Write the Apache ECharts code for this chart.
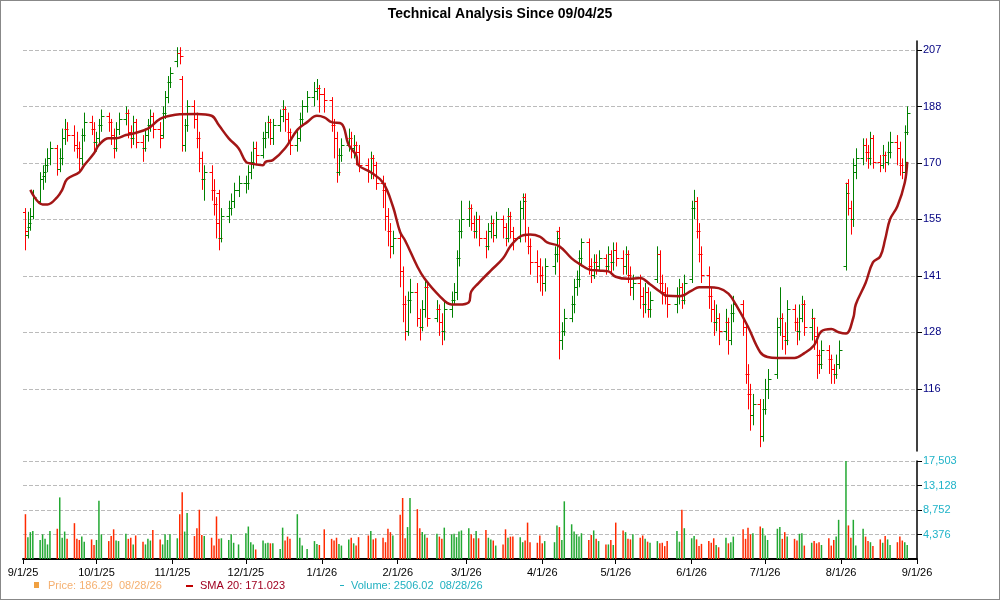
<!DOCTYPE html>
<html><head><meta charset="utf-8">
<script src="https://cdn.jsdelivr.net/npm/echarts@6/dist/echarts.min.js"></script>
<style>html,body{margin:0;padding:0;background:#fff}#c{width:1000px;height:600px;box-sizing:border-box;border:1px solid #888}</style>
</head><body><div id="c"></div>
<script>
const holidays=['2025-09-01','2025-11-27','2025-12-25','2026-01-01','2026-01-19','2026-02-16','2026-04-03','2026-05-25','2026-06-19','2026-07-03'];
const priceTicks=[116,128,141,155,170,188,207];
const volumeTicks=[4376,8752,13128,17503];
const monthLabels=['2025-09-01','2025-10-01','2025-11-01','2025-12-01','2026-01-01','2026-02-01','2026-03-01','2026-04-01','2026-05-01','2026-06-01','2026-07-01','2026-08-01','2026-09-01'];
const opens=[
157,151,153,156,160,166,167,170,172,175,169,172,178,181,179,176,175,172,179,183,181,
177,178,182,185,183,179,175,181,184,186,180,178,183,177,175,179,182,185,181,179,186,191,196,
203,206,197,176,182,188,184,178,172,166,168,163,159,162,150,156,158,160,163,
165,165,168,171,175,173,178,180,183,178,182,185,187,184,180,176,178,184,188,191,193,194,
192,190,182,178,168,173,176,178,175,176,174,170,168,172,170,165,163,156,152,148,
150,142,134,128,135,137,131,129,133,138,131,133,130,128,133,135,137,145,152,
155,158,154,152,155,150,148,152,154,151,155,153,150,156,152,150,158,161,151,148,144,143,
141,139,143,146,152,126,128,131,134,138,140,145,149,143,141,144,143,145,143,146,144,
147,145,143,146,141,138,139,136,134,137,133,140,146,139,137,136,134,136,138,135,
140,158,160,152,146,141,136,133,130,131,128,130,126,132,134,129,119,115,111,113,107,
112,116,119,129,131,127,126,133,130,128,131,134,129,131,127,123,121,124,122,120,119,121,
143,165,158,155,168,172,176,174,172,178,171,170,173,171,174,177,175,170,168,180];
const highs=[
158,157,158,163,168,170,172,175,177,176,175,181,184,183,182,180,177,181,186,185,183,
180,184,187,186,184,181,183,186,188,187,182,185,184,179,181,184,187,186,183,188,193,198,201,
208,208,198,184,190,190,186,180,174,170,170,166,161,163,158,160,162,165,167,
167,170,174,177,177,180,183,185,184,184,187,190,188,186,181,181,186,190,193,196,197,195,
194,191,184,180,175,178,181,180,179,177,176,172,174,173,171,167,165,158,154,152,
152,143,136,137,140,139,133,135,140,139,135,134,132,135,137,139,147,155,160,
160,159,156,157,156,152,154,156,155,157,156,154,158,157,153,160,162,162,153,150,147,145,
143,145,148,152,153,130,133,136,140,142,147,150,150,145,146,146,147,146,148,147,149,
149,147,148,147,143,141,141,138,139,138,137,148,147,141,139,138,138,140,139,141,
160,163,161,154,148,143,138,135,134,132,133,131,134,136,135,130,121,117,115,114,114,
118,120,131,138,132,130,135,134,131,134,136,135,133,131,129,124,126,125,123,121,123,126,
165,166,160,172,175,178,178,176,180,179,173,176,174,177,180,179,177,172,182,188];
const lows=[
147,150,152,155,159,163,165,168,170,167,168,170,176,177,174,172,168,170,177,179,174,
174,176,180,180,176,172,174,179,182,178,175,176,175,171,174,177,180,178,175,178,184,189,194,
201,202,174,174,180,181,175,168,163,160,160,156,150,147,149,154,156,158,161,
162,163,166,169,170,172,175,178,176,176,180,183,180,176,173,174,177,182,186,188,190,186,
186,180,172,165,167,171,174,172,172,170,168,165,166,166,163,158,152,148,145,146,
138,130,126,127,132,129,126,128,131,129,130,127,125,126,131,134,135,143,150,
153,152,150,150,148,145,147,150,149,150,150,148,149,150,147,149,155,149,146,141,139,137,
136,137,141,144,122,124,127,130,132,136,138,143,141,139,140,141,142,141,142,141,142,
143,141,141,139,136,135,133,131,132,131,131,139,137,134,134,131,132,134,133,134,
139,155,150,144,139,133,130,127,128,125,126,123,125,130,127,117,112,108,109,105,106,
111,114,118,127,124,123,125,128,125,126,130,127,126,124,118,119,120,119,117,117,118,120,
142,156,151,153,166,170,171,169,170,169,168,169,168,170,172,170,167,166,167,179];
const closes=[
152,154,156,161,166,168,170,172,175,169,172,178,181,179,176,175,172,179,183,181,177,
178,182,185,183,179,175,181,184,186,180,178,183,177,175,179,182,185,181,178,186,191,196,199,
206,205,176,182,188,184,178,172,166,168,163,159,154,150,156,158,160,163,165,
165,168,171,175,173,178,180,183,178,182,185,187,184,180,176,178,184,188,191,193,194,192,
190,182,178,168,173,176,178,175,176,174,170,168,172,170,165,163,156,152,148,150,
142,134,128,135,137,131,129,133,138,131,133,130,128,133,135,137,145,152,155,
158,154,152,155,150,148,152,154,151,155,153,150,156,152,150,158,160,151,148,144,143,141,
139,143,146,150,126,128,131,134,138,140,145,149,143,141,144,143,145,143,146,144,147,
145,143,146,141,138,139,136,134,137,133,135,146,139,137,136,134,136,138,135,139,
158,160,152,146,141,136,133,130,131,128,130,126,132,134,129,119,115,111,113,107,112,
116,118,129,131,127,126,133,130,128,131,134,129,131,127,123,121,124,122,120,119,121,124,
162,158,155,170,172,176,174,172,178,171,170,173,171,174,177,175,170,168,180,186];
const volumes=[
8000,3900,4800,5000,3400,4400,3600,2600,5000,5400,11000,3800,4900,3600,6400,3600,3400,4000,3100,3500,2500,
3400,10400,4400,3200,4100,5300,3300,3200,4500,3600,3800,2600,4200,3100,2600,3600,3300,5200,3500,2600,4400,3400,4400,
3700,8000,11900,4900,8200,4100,5500,8800,4300,4100,3800,2400,7600,3600,3700,3400,4400,2900,2600,
4600,5800,3000,2600,1700,3300,2800,2900,2800,2800,1800,5600,3300,4000,3600,8000,3800,2400,1800,3200,2700,2500,
5300,3600,3300,3800,2700,2400,3500,3800,2800,2400,3900,4200,5000,3500,3700,3800,3000,5400,4800,4200,
7900,10900,3700,5700,10900,8900,5500,4800,4400,3800,4500,4000,3600,5600,4400,4500,3900,4900,5100,
5500,4400,3700,5000,3700,5200,3800,3500,3300,2400,2600,5300,3800,4000,4000,3900,3000,3300,6500,3000,2900,4200,
2800,3200,3000,6000,5700,3400,10300,6200,4900,4400,4000,4600,3400,4300,5100,3600,3200,2600,2600,3400,2500,
6500,5100,4800,3600,3500,4400,3800,4200,3600,3100,2900,3200,2800,2900,2300,3200,5000,3100,8800,5500,
3700,4100,3500,2300,2700,3200,2900,3700,2500,2100,3800,2800,3000,4000,5300,3600,5600,4400,4600,5800,5500,
4200,3400,5400,5700,3600,4800,4000,3600,3300,4500,4600,2400,2900,3200,2800,3000,2500,3700,2400,3400,4000,7000,
17500,6000,3800,7000,2400,5400,4000,3200,3000,2300,3500,2900,4100,3500,2500,3000,4000,3300,3000,2506];
const smaDates=['2025-09-04','2025-09-09','2025-09-11','2025-09-15','2025-09-17','2025-09-19','2025-09-24','2025-09-26','2025-09-30','2025-10-02','2025-10-06','2025-10-09','2025-10-13','2025-10-16','2025-10-22','2025-10-27','2025-10-31','2025-11-04','2025-11-11','2025-11-17','2025-11-20','2025-11-24','2025-11-28','2025-12-01','2025-12-03','2025-12-08','2025-12-09','2025-12-12','2025-12-17','2025-12-22','2025-12-26','2025-12-30','2026-01-02','2026-01-05','2026-01-09','2026-01-12','2026-01-15','2026-01-16','2026-01-21','2026-01-26','2026-01-30','2026-02-02','2026-02-04','2026-02-09','2026-02-12','2026-02-18','2026-02-23','2026-02-26','2026-03-02','2026-03-03','2026-03-06','2026-03-11','2026-03-16','2026-03-19','2026-03-23','2026-03-27','2026-03-31','2026-04-03','2026-04-08','2026-04-13','2026-04-16','2026-04-20','2026-04-24','2026-04-28','2026-05-01','2026-05-06','2026-05-11','2026-05-15','2026-05-19','2026-05-22','2026-05-27','2026-06-01','2026-06-04','2026-06-08','2026-06-12','2026-06-16','2026-06-19','2026-06-24','2026-06-29','2026-07-02','2026-07-06','2026-07-13','2026-07-17','2026-07-21','2026-07-24','2026-07-28','2026-07-31','2026-08-03','2026-08-06','2026-08-07','2026-08-11','2026-08-14','2026-08-17','2026-08-19','2026-08-21','2026-08-24','2026-08-27','2026-08-28'];
const smaValues=[163,159,159,161,163,166,168,170,173.5,176,178,178,179,179.5,181,184,185,185.5,185.6,185,182,178,175,171,170.5,170,171,171.5,175,180.6,183,185,184.5,183,182.5,176,173,170,168,165,158.5,151.6,149.5,143,140,136,134,134,134.5,137,139,142,145,148,150.5,151,150.5,149,148,145,143.7,142.3,142,141.8,140.5,140,140.2,138.7,137,136,135.9,137.2,138,138,137.8,136.5,134,129,123.5,122.5,122.3,122.3,123.3,125,128,128.5,127.8,127.5,131,134,139,144,145.5,149.8,155,158.5,165,171];

const LO=116, HI=207, STEP=Math.log(HI/LO)/6;
const toU=p=>Math.log(p/LO)/STEP;
const ts=s=>{const [y,m,d]=s.split('-').map(Number);return Date.UTC(y,m-1,d);};
const dates=[];
for(let t=Date.UTC(2025,8,2);t<=Date.UTC(2026,7,28);t+=86400000){
  const d=new Date(t), wd=d.getUTCDay();
  if(wd===0||wd===6) continue;
  if(holidays.includes(d.toISOString().slice(0,10))) continue;
  dates.push(t);
}
const ohlc=dates.map((t,i)=>[t,toU(opens[i]),toU(highs[i]),toU(lows[i]),toU(closes[i])]);
const vol=dates.map((t,i)=>({value:[t,volumes[i]],itemStyle:{color:closes[i]>=opens[i]?'#22a832':'#ff2a00'}}));
const sma=smaDates.map((d,i)=>[ts(d),toU(smaValues[i])]);
const xMin=ts('2025-09-01'), xMax=ts('2026-09-01');
const monthTs=monthLabels.map(ts);

function renderItem(params,api){
  const x=api.value(0);
  const o=api.coord([x,api.value(1)]),h=api.coord([x,api.value(2)]),l=api.coord([x,api.value(3)]),c=api.coord([x,api.value(4)]);
  const col=api.value(4)>=api.value(1)?'#008000':'#ff0000';
  const px=Math.round(h[0])+0.5;
  const st={stroke:col,lineWidth:1};
  return {type:'group',children:[
    {type:'line',shape:{x1:px,y1:h[1],x2:px,y2:l[1]},style:st},
    {type:'line',shape:{x1:px-3,y1:Math.round(o[1])+0.5,x2:px,y2:Math.round(o[1])+0.5},style:st},
    {type:'line',shape:{x1:px,y1:Math.round(c[1])+0.5,x2:px+3,y2:Math.round(c[1])+0.5},style:st}
  ]};
}
const FONT='Liberation Sans';
const chart=echarts.init(document.getElementById('c'));
chart.setOption({
  animation:false,
  title:{text:'Technical Analysis Since 09/04/25',left:'center',top:1,textStyle:{fontFamily:FONT,fontSize:14,fontWeight:'bold',color:'#000'}},
  grid:[{left:22,right:82,top:40,height:410},{left:22,right:82,top:460,height:98}],
  xAxis:[
    {type:'value',gridIndex:0,min:xMin,max:xMax,axisLine:{show:false},axisTick:{show:false},axisLabel:{show:false},splitLine:{show:false}},
    {type:'value',gridIndex:1,min:xMin,max:xMax,
     axisLine:{onZero:false,lineStyle:{color:'#000',width:2}},
     axisTick:{customValues:monthTs,length:5,lineStyle:{color:'#000'}},
     axisLabel:{customValues:monthTs,fontFamily:FONT,fontSize:11,color:'#000',margin:8,
       formatter:v=>{const d=new Date(v);return (d.getUTCMonth()+1)+'/'+d.getUTCDate()+'/'+String(d.getUTCFullYear()).slice(2);}},
     splitLine:{show:false}}
  ],
  yAxis:[
    {type:'value',gridIndex:0,position:'right',min:-1.1,max:6.16,
     axisLine:{show:true,lineStyle:{color:'#000',width:1.5}},
     axisTick:{show:true,customValues:[0,1,2,3,4,5,6],length:5,lineStyle:{color:'#000'}},
     axisLabel:{customValues:[0,1,2,3,4,5,6],fontFamily:FONT,fontSize:11,color:'#000080',margin:6,formatter:v=>String(priceTicks[Math.round(v)])},
     splitLine:{show:true,lineStyle:{color:'#bbb',type:'dashed'}}},
    {type:'value',gridIndex:1,position:'right',min:0,max:17503,
     axisLine:{show:true,lineStyle:{color:'#000',width:1.5}},
     axisTick:{show:true,customValues:volumeTicks,length:5,lineStyle:{color:'#000'}},
     axisLabel:{customValues:volumeTicks,fontFamily:FONT,fontSize:11,color:'#1fb3c8',margin:6,formatter:v=>v.toLocaleString('en-US')},
     splitLine:{show:true,lineStyle:{color:'#bbb',type:'dashed'}}}
  ],
  series:[
    {type:'custom',xAxisIndex:0,yAxisIndex:0,renderItem:renderItem,data:ohlc,encode:{x:0,y:[1,2,3,4]},clip:true},
    {type:'line',xAxisIndex:0,yAxisIndex:0,data:sma,smooth:0.4,showSymbol:false,lineStyle:{color:'#a31616',width:2.5},z:5},
    {type:'bar',xAxisIndex:1,yAxisIndex:1,data:vol,barWidth:1.5}
  ],
  graphic:[
    {type:'rect',left:33,top:581,shape:{width:5,height:6},style:{fill:'#f0a040'}},
    {type:'text',left:47,top:579,style:{text:'Price: 186.29  08/28/26',fill:'#f5b070',font:'11px '+FONT}},
    {type:'rect',left:185,top:584,shape:{width:7,height:2},style:{fill:'#c00000'}},
    {type:'text',left:199,top:579,style:{text:'SMA 20: 171.023',fill:'#a00020',font:'11px '+FONT}},
    {type:'rect',left:339,top:584,shape:{width:4,height:1},style:{fill:'#20b0c0'}},
    {type:'text',left:350,top:579,style:{text:'Volume: 2506.02  08/28/26',fill:'#20b0c0',font:'11px '+FONT}}
  ]
});
</script></body></html>
